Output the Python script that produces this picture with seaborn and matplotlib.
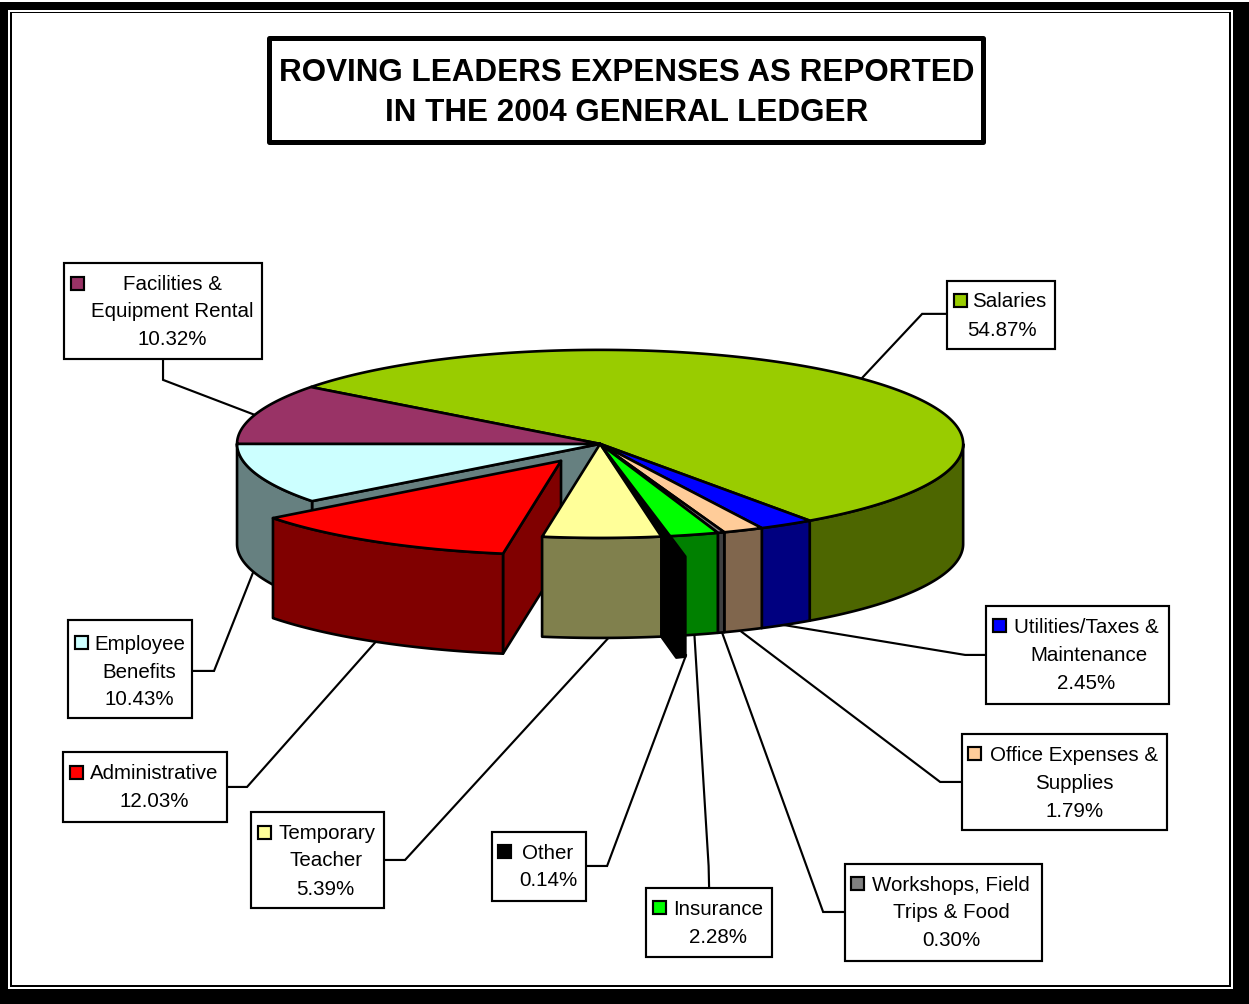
import numpy as np
import matplotlib
matplotlib.use("Agg")
import matplotlib.pyplot as plt
from matplotlib.patches import Rectangle
import seaborn as sns

# Ledger data, in slice order (clockwise from the top of the pie)
categories = ["Salaries", "Utilities/Taxes &\nMaintenance", "Office Expenses &\nSupplies",
              "Workshops, Field\nTrips & Food", "Insurance", "Other", "Temporary\nTeacher",
              "Administrative", "Employee\nBenefits", "Facilities &\nEquipment Rental"]
percents = [54.87, 2.45, 1.79, 0.30, 2.28, 0.14, 5.39, 12.03, 10.43, 10.32]
top_colors = ["#99CC00", "#0000FF", "#FFCC99", "#808080", "#00FF00",
              "#000000", "#FFFF99", "#FF0000", "#CCFFFF", "#993366"]
title_lines = ["ROVING LEADERS EXPENSES AS REPORTED", "IN THE 2004 GENERAL LEDGER"]

# Pie geometry, in figure pixels
CX, CY, RX, RY, DEPTH = 600.0, 444.0, 363.0, 94.0, 100.0
START_ANGLE = 142.8
EXPLODE = 0.21
PIE_LW, BOX_LW = 1.9, 1.55
TEXT_PT, TITLE_PT = 14.8, 22.6

# Callouts: box, swatch corner, centre of each text line, leader path
callouts = {
    "Salaries": dict(box=(947, 281, 1055, 349), sw=(954, 294),
                     lines=[(1009, 300), (1002, 329)],
                     leader=[(947, 314), (922, 314), (862, 378)]),
    "Utilities/Taxes &\nMaintenance": dict(box=(986, 606, 1169, 704), sw=(993, 619),
                     lines=[(1086, 626), (1089, 654), (1086, 682)],
                     leader=[(986, 655), (965, 655), (777, 624)]),
    "Office Expenses &\nSupplies": dict(box=(962, 734, 1167, 830), sw=(968, 747),
                     lines=[(1074, 754), (1074, 782), (1074, 810)],
                     leader=[(962, 782), (940, 782), (735, 627)]),
    "Workshops, Field\nTrips & Food": dict(box=(845, 864, 1042, 961), sw=(851, 877),
                     lines=[(951, 884), (951, 911), (951, 939)],
                     leader=[(845, 912), (823, 912), (721, 630)]),
    "Insurance": dict(box=(646, 888, 772, 957), sw=(653, 901),
                     lines=[(718, 908), (718, 936)],
                     leader=[(709, 888), (708.5, 866), (694, 630)]),
    "Other": dict(box=(492, 832, 586, 901), sw=(498, 845),
                     lines=[(548, 852), (548, 879)],
                     leader=[(586, 866), (607, 866), (686, 655)]),
    "Temporary\nTeacher": dict(box=(251, 812, 384, 908), sw=(258, 826),
                     lines=[(327, 832), (326, 859), (325, 888)],
                     leader=[(384, 860), (405, 860), (612, 634)]),
    "Administrative": dict(box=(63, 752, 227, 822), sw=(70, 766),
                     lines=[(154, 772), (154, 800)],
                     leader=[(227, 787), (247, 787), (380, 637)]),
    "Employee\nBenefits": dict(box=(68, 620, 192, 718), sw=(75, 636),
                     lines=[(140, 643), (139, 671), (139, 698)],
                     leader=[(192, 671), (214, 671), (256, 565)]),
    "Facilities &\nEquipment Rental": dict(box=(64, 263, 262, 359), sw=(71, 277),
                     lines=[(172, 283), (172, 310), (172, 338)],
                     leader=[(163, 358), (163, 380), (260, 417)]),
}

sns.set_theme(style="white")
plt.rcParams["font.family"] = ["Liberation Sans", "DejaVu Sans"]
palette = sns.color_palette(top_colors)
wall_colors = [tuple(c * 0.5 for c in col) for col in palette]

fig = plt.figure(figsize=(1249.2 / 100, 1004.2 / 100), dpi=100, facecolor="white")
ax = fig.add_axes([0, 0, 1, 1])
ax.set_xlim(0, 1249)
ax.set_ylim(1004, 0)
ax.axis("off")


def rim(angle, off=(0.0, 0.0), drop=0.0):
    """Point on the pie's top ellipse (angle in degrees), optionally shifted and dropped."""
    a = np.radians(angle)
    return (CX + off[0] + RX * np.cos(a), CY + off[1] - RY * np.sin(a) + drop)


def arc(a0, a1, off=(0.0, 0.0), drop=0.0):
    ts = np.linspace(a0, a1, max(int(abs(a1 - a0) * 3), 2))
    return [rim(t, off, drop) for t in ts]


def poly(points, face, z, lw=PIE_LW):
    xs, ys = zip(*points)
    ax.fill(xs, ys, facecolor=face, edgecolor="black", linewidth=lw,
            joinstyle="round", zorder=z, closed=True)


def top_face(a0, a1, face, z, off=(0.0, 0.0)):
    poly([(CX + off[0], CY + off[1])] + arc(a0, a1, off), face, z)


def outer_wall(a0, a1, face, z, off=(0.0, 0.0)):
    # keep only the part of the rim that faces the viewer
    a0, a1 = min(a0, 0.0), max(a1, -180.0)
    if a0 <= a1:
        return
    poly(arc(a0, a1, off) + arc(a1, a0, off, DEPTH), face, z)


# Frame: heavy black border, thin white gap, thin black keyline
for (x0, y0, x1, y1), col in [((0, 2, 1249, 1004), "black"), ((8, 10, 1233, 989), "white"),
                              ((10, 12, 1231, 987), "black"), ((12, 13.5, 1229, 985), "white")]:
    ax.add_patch(Rectangle((x0, y0), x1 - x0, y1 - y0, facecolor=col, edgecolor="none", zorder=0))

# Slice angles follow from the percentages, running clockwise
edges = START_ANGLE - np.concatenate([[0.0], np.cumsum(percents)]) * 3.6
idx = {name: i for i, name in enumerate(categories)}
i_admin, i_other, i_emp = idx["Administrative"], idx["Other"], idx["Employee\nBenefits"]
i_temp = idx["Temporary\nTeacher"]

# Radial face of the slice behind the pulled-out wedge
inner = rim(edges[i_emp])
poly([(CX, CY), inner, (inner[0], inner[1] + DEPTH), (CX, CY + DEPTH)], wall_colors[i_emp], 3)

# Outer walls and tops of the slices that stay in place
for i, name in enumerate(categories):
    if i in (i_admin, i_other, i_temp):
        continue
    outer_wall(edges[i], edges[i + 1], wall_colors[i], 4)
for i, name in enumerate(categories):
    if i in (i_admin, i_other, i_temp):
        continue
    top_face(edges[i], edges[i + 1], palette[i], 5)

# Pulled-out Administrative wedge
mid = np.radians((edges[i_admin] + edges[i_admin + 1]) / 2)
shift = (RX * np.cos(mid) * EXPLODE, -RY * np.sin(mid) * EXPLODE)
apex = (CX + shift[0], CY + shift[1])
near = rim(edges[i_admin], shift)
poly([apex, near, (near[0], near[1] + DEPTH), (apex[0], apex[1] + DEPTH)], wall_colors[i_admin], 6)
outer_wall(edges[i_admin], edges[i_admin + 1], wall_colors[i_admin], 6, shift)
top_face(edges[i_admin], edges[i_admin + 1], palette[i_admin], 6, shift)

# Temporary Teacher sits in front of the wedge's inner wall
outer_wall(edges[i_temp], edges[i_temp + 1], wall_colors[i_temp], 7)
top_face(edges[i_temp], edges[i_temp + 1], palette[i_temp], 7)

# The very thin "Other" slice is drawn slightly fattened, with its fin on the wall
other_a0, other_a1 = edges[i_other] + 0.4, edges[i_other + 1] - 0.5
top_face(other_a0, other_a1, "black", 8)
lx, ly = rim(other_a1)
rx, ry = rim(other_a0)
poly([(lx, ly), (rx, ry), (lx + 24, ly + 20), (lx + 24, ly + 120), (lx + 15, ly + 121),
      (lx, ly + DEPTH)], "black", 8)

# Callout boxes, swatches, leaders and text
for i, name in enumerate(categories):
    c = callouts[name]
    xs, ys = zip(*c["leader"])
    ax.plot(xs, ys, color="black", lw=BOX_LW, zorder=2, solid_joinstyle="miter")
    x0, y0, x1, y1 = c["box"]
    ax.add_patch(Rectangle((x0, y0), x1 - x0, y1 - y0, facecolor="white",
                           edgecolor="black", lw=BOX_LW, zorder=10))
    ax.add_patch(Rectangle(c["sw"], 13, 13, facecolor=palette[i],
                           edgecolor="black", lw=BOX_LW, zorder=11))
    text_lines = name.split("\n") + [f"{percents[i]:.2f}%"]
    for txt, (tx, ty) in zip(text_lines, c["lines"]):
        ax.text(tx, ty + 6.7, txt, ha="center", va="baseline", fontsize=TEXT_PT,
                color="black", zorder=12)

# Title box
ax.add_patch(Rectangle((268.5, 38.5), 714, 103.5, facecolor="white", edgecolor="black",
                       lw=3.6, joinstyle="round", zorder=10))
for txt, y in zip(title_lines, (81, 121)):
    ax.text(626.5, y, txt, ha="center", va="baseline", fontsize=TITLE_PT, fontweight="bold",
            color="black", zorder=12)

fig.savefig("out.png", dpi=100, facecolor="white")
